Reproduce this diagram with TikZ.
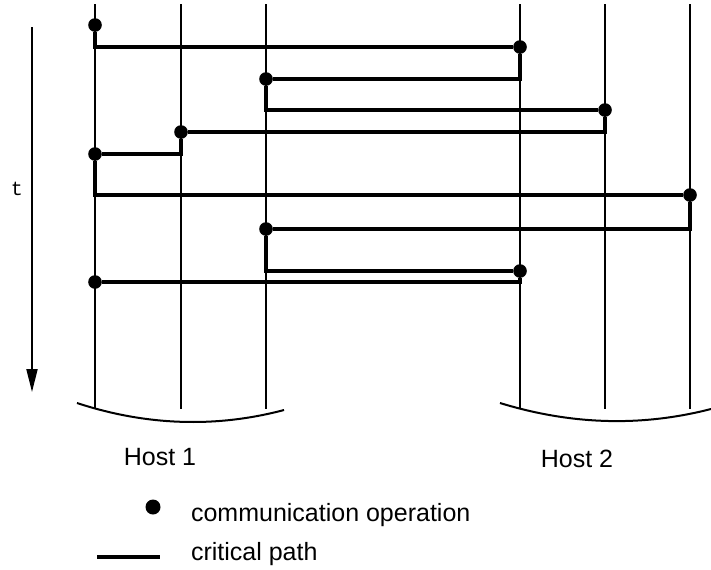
\documentclass[tikz,border=0pt]{standalone}
\usepackage{fontspec}
\setmainfont{Liberation Sans}
\setmonofont{Liberation Mono}
\usetikzlibrary{arrows.meta}

\begin{document}
\begin{tikzpicture}[x=0.5pt, y=-0.5pt, >={Triangle[length=11.5pt,width=5.5pt]},
  proc/.style={line width=1pt},
  crit/.style={line width=2pt},
  op/.style={circle, fill, inner sep=0pt, minimum size=6.8pt},
  lbl/.style={font=\fontsize{12.5}{15}\selectfont}]
  \useasboundingbox (0,0) rectangle (711,569);

  % Process lines
  \foreach \x [count=\i] in {95,181,266,520,605,690} {
    \coordinate (top\i) at (\x,4);
    \coordinate (bot\i) at (\x,409);
    \draw[proc] (top\i) -- (bot\i);
  }

  % Host outlines
  \draw[proc] (77,403) .. controls (150,427) and (220,427) .. (284,410);
  \draw[proc] (500,403) .. controls (575,426) and (645,426) .. (711,409);

  % Time axis
  \coordinate (t0) at (32,27);
  \coordinate (t1) at (32,392);
  \draw[proc,->] (t0) -- (t1);
  \node[font=\fontsize{10}{12}\selectfont\ttfamily] (tlbl) at (17,189) {t};

  % Communication operations
  \node[op] (a) at (95,25) {};
  \node[op] (b) at (520,47) {};
  \node[op] (c) at (266,79) {};
  \node[op] (d) at (605,110) {};
  \node[op] (e) at (181,132) {};
  \node[op] (f) at (95,154) {};
  \node[op] (g) at (690,195) {};
  \node[op] (h) at (266,229) {};
  \node[op] (i) at (520,271) {};
  \node[op] (j) at (95,282) {};

  % Critical path
  \draw[crit] (a) |- (b) |- (c) |- (d) |- (e) |- (f) |- (g) |- (h) |- (i) |- (j);

  % Host labels
  \node[lbl] (host1) at (160,457) {Host 1};
  \node[lbl] (host2) at (577,459) {Host 2};

  % Legend
  \node[op, minimum size=7.5pt] (key) at (153,507) {};
  \node[lbl, anchor=base west] (keytxt) at (184,521) {communication operation};
  \coordinate (crit0) at (97,557);
  \coordinate (crit1) at (160,557);
  \draw[crit] (crit0) -- (crit1);
  \node[lbl, anchor=base west] (crittxt) at (184,560) {critical path};
\end{tikzpicture}
\end{document}
